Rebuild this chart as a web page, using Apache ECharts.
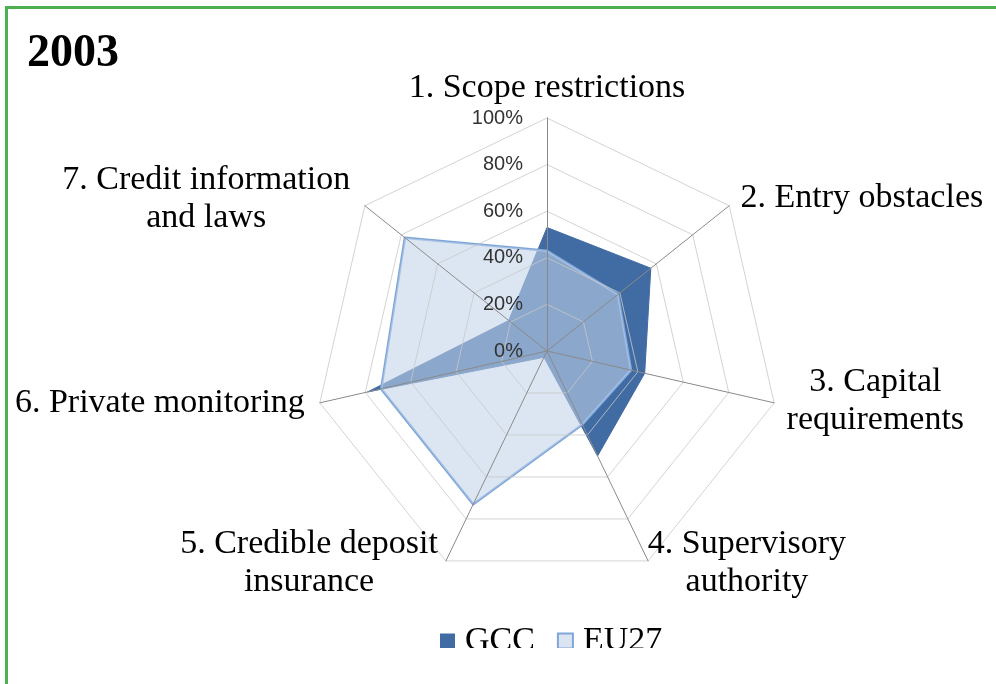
<!DOCTYPE html>
<html>
<head>
<meta charset="utf-8">
<script src="https://cdn.jsdelivr.net/npm/echarts@6/dist/echarts.min.js"></script>
<style>
  html, body { margin: 0; padding: 0; background: #ffffff; }
  #frame { position: absolute; left: 5px; top: 6px; width: 991px; height: 678px;
           border-top: 3px solid #4caf50; border-left: 3px solid #4caf50; box-sizing: border-box; }
  #chart { position: absolute; left: 0; top: 0; width: 996px; height: 648px; }
</style>
</head>
<body>
<div id="frame"></div>
<div id="chart"></div>
<script>
// ---- data ----
const titleText = '2003';
const categories = [
  '1. Scope restrictions',
  '2. Entry obstacles',
  '3. Capital\nrequirements',
  '4. Supervisory\nauthority',
  '5. Credible deposit\ninsurance',
  '6. Private monitoring',
  '7. Credit information\nand laws'
];
const seriesNames = ['GCC', 'EU27'];
const gccValues  = [53, 57, 43, 50, 3, 79, 21];
const eu27Values = [43, 39, 37, 35, 73, 73, 78];
const axisMax = 100;
const axisSplits = 5; // ticks 0%,20%,...,100%

// ---- layout of the category names (style only) ----
const nameLayout = [
  { gap: 30, align: 'center', pad: [0, 0, 0, 0] },
  { gap: 12, align: 'left',   pad: [0, 0, 0, 2] },
  { gap: -8, align: 'center', pad: [0, 0, 0, 218] },
  { gap: 2,  align: 'center', pad: [0, 0, 0, 196] },
  { gap: 2,  align: 'center', pad: [0, 272, 0, 0] },
  { gap: 0,  align: 'right',  pad: [0, 15, 0, 0] },
  { gap: 11, align: 'center', pad: [0, 300, 0, 0] }
];

// ECharts radar places indicators counter-clockwise; reorder to go clockwise
const order = [0, 6, 5, 4, 3, 2, 1];

const indicators = order.map(function (i, k) {
  const L = nameLayout[i];
  const ind = {
    name: categories[i],
    max: axisMax,
    min: 0,
    nameGap: L.gap,
    nameTextStyle: { align: L.align, verticalAlign: 'middle', padding: L.pad }
  };
  if (k === 0) ind.axisLabel = { show: true };
  return ind;
});

const chart = echarts.init(document.getElementById('chart'), null, { renderer: 'canvas' });
chart.setOption({
  animation: false,
  backgroundColor: 'transparent',
  title: {
    text: titleText, left: 22, top: 26,
    textStyle: { fontFamily: 'Liberation Serif', fontWeight: 'bold', fontSize: 46, color: '#000' }
  },
  legend: {
    data: seriesNames,
    left: 435, top: 619,
    icon: 'rect', itemWidth: 15, itemHeight: 15, itemGap: 22,
    textStyle: { fontFamily: 'Liberation Serif', fontSize: 34, color: '#000', padding: [0, 0, 0, 5] }
  },
  radar: {
    z: 3,
    center: [547, 351],
    radius: 233,
    startAngle: 90,
    shape: 'polygon',
    splitNumber: axisSplits,
    indicator: indicators,
    axisName: {
      fontFamily: 'Liberation Serif', fontSize: 34, color: '#000', lineHeight: 38
    },
    axisLine: { lineStyle: { color: '#8a8a8a', width: 1 } },
    splitLine: { lineStyle: { color: 'rgba(200,200,200,0.8)', width: 1 } },
    splitArea: { show: false },
    axisTick: { show: false },
    axisLabel: {
      show: false, formatter: '{value}%', margin: 24, showMinLabel: true, showMaxLabel: true,
      fontFamily: 'Liberation Sans', fontSize: 20, color: '#333'
    }
  },
  series: [{
    type: 'radar',
    z: 1,
    symbol: 'none',
    data: [
      {
        name: seriesNames[0],
        value: order.map(function (i) { return gccValues[i]; }),
        itemStyle: { color: '#416ba3' },
        lineStyle: { color: '#416ba3', width: 1 },
        areaStyle: { color: '#416ba3', opacity: 1 }
      },
      {
        name: seriesNames[1],
        value: order.map(function (i) { return eu27Values[i]; }),
        itemStyle: { color: '#dbe5f1', borderColor: '#7ea6d9', borderWidth: 2 },
        lineStyle: { color: '#7ea6d9', width: 2.5 },
        areaStyle: { color: 'rgba(194,211,232,0.575)', opacity: 1 }
      }
    ]
  }]
});
</script>
</body>
</html>
